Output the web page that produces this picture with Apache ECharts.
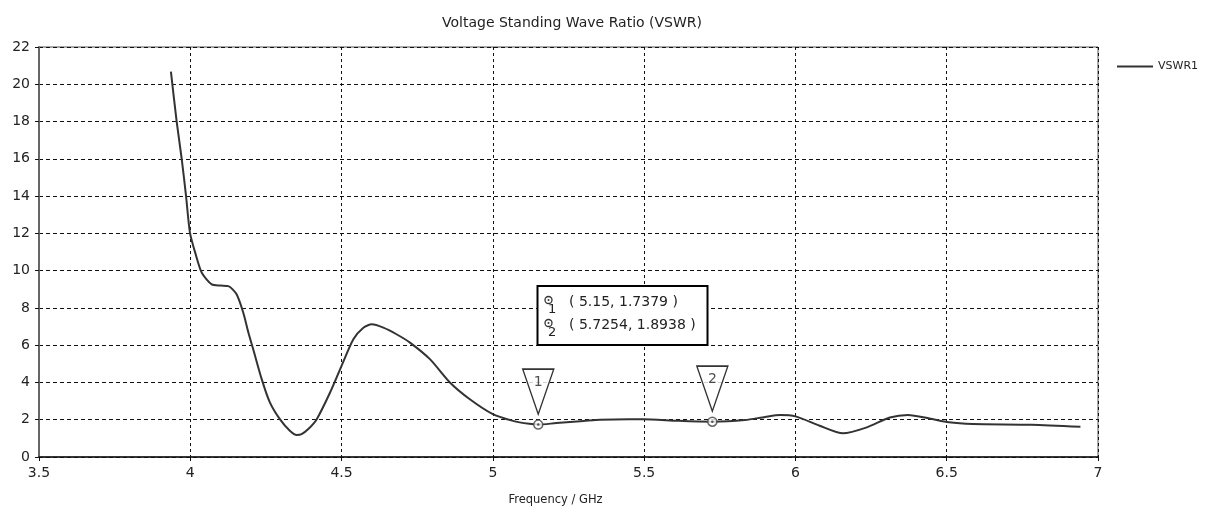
<!DOCTYPE html>
<html>
<head>
<meta charset="utf-8">
<script src="https://cdn.jsdelivr.net/npm/echarts@6/dist/echarts.min.js"></script>
<style>html,body{margin:0;padding:0;background:#fff;}#c{width:1212px;height:511px;}</style>
</head>
<body>
<div id="c"></div>
<script>
const title = 'Voltage Standing Wave Ratio (VSWR)';
const xName = 'Frequency / GHz';
const seriesName = 'VSWR1';
const freq = [3.936,3.955,3.972,3.986,3.999,4.018,4.038,4.071,4.10,4.126,4.153,4.175,4.192,4.208,4.236,4.263,4.296,4.329,4.352,4.368,4.39,4.418,4.462,4.5,4.539,4.572,4.6,4.638,4.68,4.726,4.792,4.858,4.924,5.0,5.067,5.12,5.15,5.21,5.3,5.354,5.45,5.496,5.613,5.7254,5.833,5.9,5.95,6.0,6.08,6.157,6.236,6.312,6.372,6.443,6.507,6.586,6.78,6.942];
const vswr = [20.68,18.0,15.95,14.0,12.03,10.87,9.89,9.26,9.2,9.17,8.73,7.75,6.68,5.78,4.18,2.93,2.03,1.41,1.18,1.23,1.5,2.03,3.46,4.89,6.32,6.94,7.12,6.94,6.6,6.14,5.25,4.0,3.1,2.30,1.94,1.78,1.7379,1.82,1.93,2.0,2.03,2.03,1.94,1.8938,1.98,2.15,2.25,2.18,1.68,1.27,1.59,2.12,2.26,2.07,1.86,1.77,1.73,1.62];
const markerX = [5.15, 5.7254];
const markerY = [1.7379, 1.8938];
const markerNames = ['1', '2'];
const markerTexts = ['( 5.15, 1.7379 )', '( 5.7254, 1.8938 )'];

const FONT = 'DejaVu Sans';
const chart = echarts.init(document.getElementById('c'), null, {renderer: 'canvas'});

const lineData = freq.map((f, i) => [f, vswr[i]]);
const markerData = markerX.map((x, i) => [x, markerY[i], markerNames[i]]);

const graphics = [{
  type: 'rect', shape: {x: 537.5, y: 286, width: 170, height: 59},
  style: {fill: '#fff', stroke: '#000', lineWidth: 2}, z: 100
}];
markerTexts.forEach((t, i) => {
  const cy = 301 + i * 23;
  graphics.push({type: 'circle', shape: {cx: 548.5, cy: cy - 1, r: 3.5}, style: {fill: '#fff', stroke: '#333', lineWidth: 1.3}, z: 101});
  graphics.push({type: 'circle', shape: {cx: 548.5, cy: cy - 1, r: 1}, style: {fill: '#333'}, z: 102});
  graphics.push({type: 'text', x: 548, y: cy + 2, style: {text: markerNames[i], font: '13px ' + FONT, fill: '#222'}, z: 101});
  graphics.push({type: 'text', x: 569, y: cy + 1, style: {text: t, font: '14px ' + FONT, fill: '#222', textVerticalAlign: 'middle'}, z: 101});
});

chart.setOption({
  animation: false,
  backgroundColor: '#fff',
  title: {text: title, left: 567, top: 11, textAlign: 'center',
    textStyle: {fontFamily: FONT, fontSize: 14, fontWeight: 'normal', color: '#222'}},
  legend: {data: [{name: seriesName, icon: 'rect'}], left: 1112, top: 56, itemWidth: 36, itemHeight: 2,
    textStyle: {fontFamily: FONT, fontSize: 11, color: '#222'}},
  grid: {left: 39, right: 114, top: 47, bottom: 53, show: true, borderColor: '#555', borderWidth: 1},
  xAxis: {type: 'value', min: 3.5, max: 7, interval: 0.5,
    name: xName, nameLocation: 'middle', nameGap: 37,
    nameTextStyle: {fontFamily: FONT, fontSize: 11.5, color: '#222', padding: [0, 26, 0, 0]},
    axisLine: {lineStyle: {color: '#111', width: 1.5}},
    axisTick: {show: true, length: 4, lineStyle: {color: '#111'}},
    axisLabel: {fontFamily: FONT, fontSize: 14, color: '#222', margin: 9},
    splitLine: {lineStyle: {type: [3, 3], color: '#111', width: 1}}},
  yAxis: {type: 'value', min: 0, max: 22, interval: 2,
    axisLine: {show: true, lineStyle: {color: '#666', width: 2}},
    axisTick: {show: true, length: 4, lineStyle: {color: '#111'}},
    axisLabel: {fontFamily: FONT, fontSize: 14, color: '#222', margin: 9},
    splitLine: {lineStyle: {type: [4, 3], color: '#111', width: 1}}},
  series: [
    {name: seriesName, type: 'line', data: lineData, smooth: 0.25, showSymbol: false,
      lineStyle: {color: '#333', width: 2}, itemStyle: {color: '#333'}, z: 3},
    {type: 'scatter', data: markerData, symbol: 'path://M0,0 L31,0 L15.5,45 Z', symbolSize: [31, 45],
      symbolOffset: [0, -33], itemStyle: {color: '#fff', borderColor: '#000', borderWidth: 1.5}, z: 5,
      label: {show: true, position: 'inside', offset: [0, -9], formatter: p => p.data[2],
        fontFamily: FONT, fontSize: 14, color: '#222'}},
    {type: 'scatter', data: markerData, symbol: 'circle', symbolSize: 9,
      itemStyle: {color: '#fff', borderColor: '#444', borderWidth: 1.5}, z: 6},
    {type: 'scatter', data: markerData, symbol: 'circle', symbolSize: 2.5,
      itemStyle: {color: '#333'}, z: 7}
  ],
  graphic: graphics
});
</script>
</body>
</html>
